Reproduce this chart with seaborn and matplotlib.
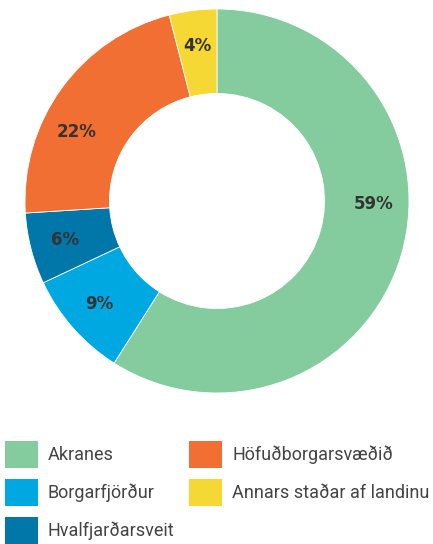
import matplotlib
matplotlib.use("Agg")

import numpy as np
import matplotlib.pyplot as plt
import seaborn as sns
from matplotlib.patches import Patch

# ── Data ─────────────────────────────────────────────────────────────────────
regions = ["Akranes", "Borgarfjörður", "Hvalfjarðarsveit",
           "Höfuðborgarsvæðið", "Annars staðar af landinu"]
shares = [59, 9, 6, 22, 4]
colors = ["#84CC9D", "#00A8E2", "#0076A9", "#F26F33", "#F5D833"]
# small nudges (degrees) so labels sit where the original put them
label_shift = [15, 0, 0, 10, 0]

# ── Style ────────────────────────────────────────────────────────────────────
sns.set_theme(style="white")
plt.rcParams["font.family"] = ["Roboto", "DejaVu Sans"]

fig = plt.figure(figsize=(4.33, 5.44), dpi=100)
ax = fig.add_axes([25 / 433, 151 / 544, 384 / 433, 384 / 544])

wedges, _ = ax.pie(
    shares,
    colors=colors,
    startangle=90,
    counterclock=False,
    radius=1.0,
    wedgeprops=dict(width=0.44, edgecolor="white", linewidth=0.6),
)
ax.set_xlim(-1, 1)
ax.set_ylim(-1, 1)
ax.set_aspect("equal")
ax.axis("off")

# percentage labels in the middle of the ring
for w, val, shift in zip(wedges, shares, label_shift):
    mid = np.deg2rad((w.theta1 + w.theta2) / 2 + shift)
    r = 0.815
    ax.text(r * np.cos(mid), r * np.sin(mid), f"{val}%",
            ha="center", va="center", fontsize=12, fontweight="bold",
            color="#333333", family=["DejaVu Sans"])

# ── Legend ───────────────────────────────────────────────────────────────────
handles = [Patch(facecolor=c, edgecolor="none") for c in colors]
fig.legend(
    handles, regions,
    loc="upper left",
    bbox_to_anchor=(5 / 433, 1 - 441 / 544),
    ncol=2,
    frameon=False,
    fontsize=13,
    handlelength=1.83,
    handleheight=1.92,
    handletextpad=0.55,
    columnspacing=0.8,
    labelspacing=0.6,
    borderpad=0,
    borderaxespad=0,
    labelcolor="#444444",
)

plt.savefig("out.png", dpi=100)
plt.close()
